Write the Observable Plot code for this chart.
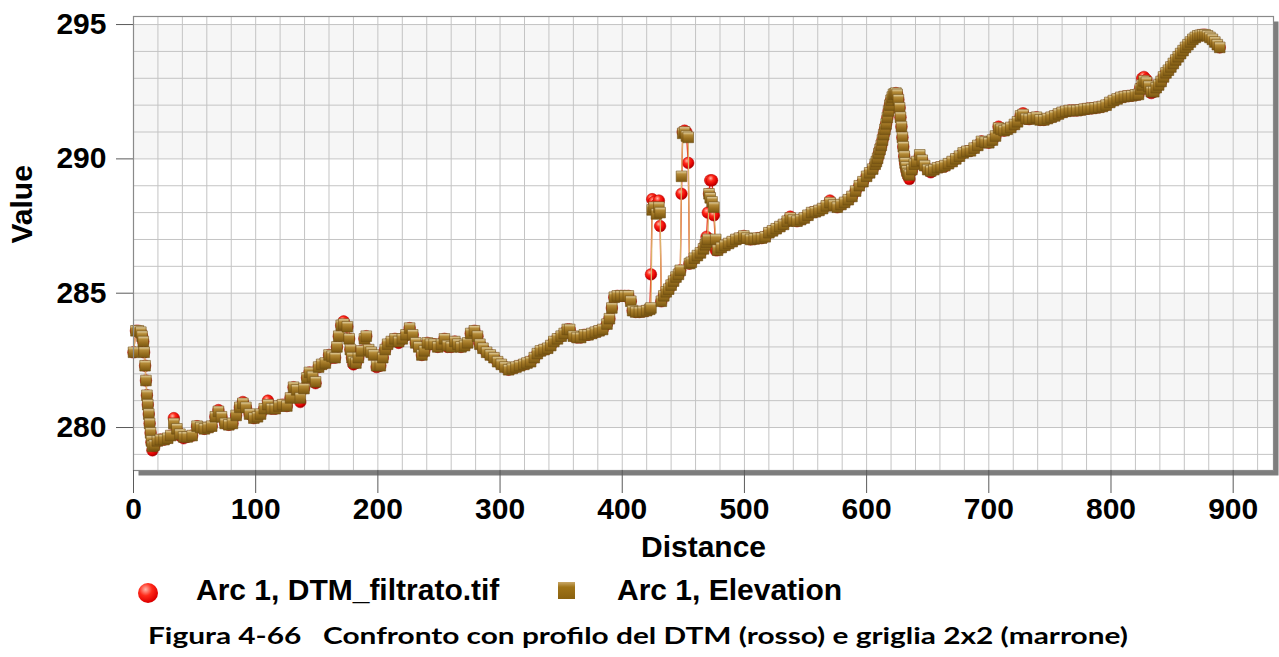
<!DOCTYPE html>
<html>
<head>
<meta charset="utf-8">
<script src="https://cdn.jsdelivr.net/npm/d3@7"></script>
<script src="https://cdn.jsdelivr.net/npm/@observablehq/plot@0.6"></script>
<style>
html,body{margin:0;padding:0;background:#fff;}
#wrap{position:relative;width:1279px;height:657px;overflow:hidden;font-family:"Liberation Sans",Arial,sans-serif;}
#chart{position:absolute;left:0;top:0;}
.lt{position:absolute;top:575px;font-size:30px;line-height:30px;font-weight:bold;color:#000;white-space:nowrap;}
.ball{position:absolute;width:20px;height:20px;border-radius:50%;
  background:radial-gradient(circle at 38% 32%, #ffb6a8 0%, #ff2a1a 35%, #e00000 70%, #a00000 100%);}
.sq{position:absolute;width:17px;height:17px;
  background:linear-gradient(to bottom, #c9a868 0%, #a07418 30%, #8a6210 100%);}
#caption{position:absolute;left:0;top:618px;}
</style>
</head>
<body>
<div id="wrap">
  <div id="chart"></div>
  <span class="ball" style="left:138px;top:583px"></span>
  <span class="lt" style="left:196px">Arc 1, DTM_filtrato.tif</span>
  <span class="sq" style="left:558px;top:582px"></span>
  <span class="lt" style="left:617px">Arc 1, Elevation</span>
  <svg id="caption" width="1279" height="39">
    <text x="638" y="26" text-anchor="middle" textLength="980" lengthAdjust="spacingAndGlyphs"
      style="font-family:Lato,'Open Sans',sans-serif;font-weight:700;font-size:22px;fill:#000;white-space:pre" xml:space="preserve">Figura 4-66   Confronto con profilo del DTM (rosso) e griglia 2x2 (marrone)</text>
  </svg>
</div>
<script>
// ---- data ----
const distance = [
  0,2,4,6,8,9.5,11,12.5,14,15.5,
  17,19.5,22,25,28,30.5,33,35.5,38,41,
  44,48,52,55,58,61,64,67,69.5,72,
  75,78,81,84,87,89.5,92,95,98.5,101.5,
  104,107,110,113,116,119,122,125.5,128.5,131,
  133.5,136.5,139.5,142,144,146.5,149,151.5,154,157,
  160,162.5,165,168,170,172,175,177.5,180,182,
  184,186.5,189,190.5,192.5,194.5,196.5,199,202,204,
  206,208,211,214,217,220,223,226,228.5,231,
  233.5,236,238,240.5,243,246,249,252,254.5,257,
  260,263,265.5,268,271,273.5,276,279,281.5,283.5,
  286,289,292,295,298,301,304,307,310,313,
  316,319.5,322,325,328,330.5,333,336,339,341.5,
  344,347,350,352.5,355,357,360,363,366,369,
  372,375,378,381,384,387.5,389.5,391.5,393.5,396,
  399,402,405,407,408.5,411,414,417,420,422.5,
  423.5,424.5,426,428,430,431,432,434,436,438,
  440,442,444,446,447.5,448.5,449.5,451,452.5,454,
  455,456.5,459,461.5,464,466.5,468,469,470,471,
  472,473.5,475,476.5,478,481,484,487,490,493,
  496,499.5,502,505,508,511,514,517,520,523,
  526,529,532,535,537.5,540,543,546,549,552,
  555,558,561,564,567,570,573,576,579,582,
  585,588,591,594,597,600,602.5,605,607,609,
  611,613,615,617,619,621,623,625,627,628.5,
  630,631.5,633,635,637,639,641,643.5,645.5,647.5,
  650,652.5,655,658,661,664,667,670,673,676,
  679,682,685,688,691,694,697,700,703,705.5,
  708,710,712.5,715,718,721,723.5,726,728,730.5,
  733,736,739,742,745,748,751,754,757,760,
  763,766,769,772,775,778,781,784,787,790,
  793,796,799,802,805,808,811,814,817,820,
  822.5,824,825.5,827,829,831,833,835,837,839,
  841,843,845,847,849,851,853,855,857,859,
  861,863,865,867,869,871,873,875,877,879,
  881,883,885,887,889
];
const dtm = [ // Arc 1, DTM_filtrato.tif (red)
  282.8,283.6,283.6,283.55,283.2,282.3,281.2,280.5,279.8,279.15,
  279.3,279.5,279.55,279.55,279.6,279.7,280.35,279.9,279.7,279.6,
  279.65,279.7,280.05,280.0,279.95,280.0,280.05,280.4,280.65,280.4,
  280.15,280.1,280.15,280.45,280.75,280.95,280.75,280.5,280.35,280.4,
  280.5,280.7,281.0,280.7,280.7,280.8,280.85,280.8,281.1,281.5,
  281.4,280.95,281.45,281.85,282.05,281.9,281.65,282.25,282.35,282.4,
  282.7,282.6,282.6,283.4,283.8,283.95,283.75,282.9,282.35,282.4,
  282.6,282.85,283.3,283.4,282.9,282.8,282.7,282.25,282.3,282.6,
  282.9,283.1,283.2,283.3,283.15,283.3,283.45,283.7,283.45,283.15,
  283.0,282.7,282.85,283.15,283.1,283.1,283.0,283.1,283.3,283.0,
  283.0,283.2,283.1,283.0,283.05,283.15,283.5,283.6,283.4,283.1,
  282.95,282.8,282.7,282.6,282.45,282.35,282.25,282.15,282.2,282.25,
  282.3,282.35,282.4,282.45,282.6,282.75,282.85,282.9,282.95,283.05,
  283.2,283.3,283.4,283.5,283.65,283.65,283.4,283.35,283.35,283.45,
  283.45,283.5,283.55,283.6,283.65,283.85,284.05,284.45,284.85,284.9,
  284.9,284.9,284.9,284.7,284.35,284.3,284.3,284.32,284.35,284.4,
  285.7,288.5,288.4,288.3,288.45,287.5,284.7,284.9,285.05,285.15,
  285.3,285.45,285.6,285.7,285.85,288.7,291.0,291.05,291.0,289.85,
  286.1,286.15,286.3,286.4,286.5,286.65,286.8,287.1,288.0,288.7,
  289.2,289.2,287.9,286.6,286.6,286.7,286.78,286.85,286.92,287.0,
  287.05,287.13,287.05,287.0,287.02,287.05,287.05,287.1,287.25,287.32,
  287.4,287.48,287.56,287.68,287.85,287.72,287.68,287.74,287.8,287.9,
  288.0,288.03,288.08,288.15,288.25,288.45,288.28,288.2,288.3,288.38,
  288.48,288.6,288.8,289.0,289.15,289.35,289.48,289.62,289.8,290.02,
  290.35,290.7,291.1,291.54,292.0,292.3,292.42,292.4,291.9,291.2,
  290.45,289.85,289.5,289.25,289.55,289.8,289.9,290.1,289.95,289.75,
  289.6,289.5,289.6,289.67,289.7,289.72,289.82,289.9,290.0,290.1,
  290.22,290.28,290.3,290.4,290.5,290.65,290.62,290.6,290.7,290.85,
  291.2,291.1,291.05,291.1,291.17,291.28,291.38,291.6,291.7,291.5,
  291.48,291.52,291.55,291.45,291.45,291.5,291.55,291.6,291.67,291.73,
  291.77,291.8,291.8,291.8,291.82,291.85,291.87,291.88,291.9,291.92,
  291.95,292.0,292.1,292.17,292.23,292.29,292.32,292.34,292.35,292.38,
  292.4,292.65,293.0,293.05,292.95,292.7,292.45,292.5,292.65,292.75,
  292.88,293.05,293.2,293.3,293.42,293.55,293.68,293.8,293.92,294.03,
  294.15,294.25,294.35,294.45,294.52,294.58,294.6,294.62,294.62,294.58,
  294.52,294.45,294.35,294.25,294.15
];
const elevation = [ // Arc 1, Elevation (brown)
  282.8,283.6,283.6,283.55,283.2,282.3,281.2,280.5,279.8,279.3,
  279.35,279.5,279.55,279.55,279.6,279.7,280.15,279.95,279.75,279.65,
  279.65,279.7,280.05,280.0,279.95,280.0,280.05,280.4,280.6,280.4,
  280.15,280.1,280.15,280.45,280.75,280.9,280.75,280.5,280.35,280.4,
  280.5,280.7,280.85,280.7,280.7,280.8,280.85,280.8,281.1,281.5,
  281.4,281.1,281.45,281.85,282.05,281.9,281.7,282.25,282.35,282.4,
  282.7,282.65,282.6,283.4,283.8,283.85,283.75,282.9,282.45,282.4,
  282.6,282.85,283.3,283.4,282.9,282.8,282.7,282.3,282.3,282.6,
  282.9,283.1,283.2,283.3,283.2,283.3,283.45,283.7,283.45,283.15,
  283.0,282.7,282.85,283.15,283.1,283.1,283.0,283.1,283.3,283.05,
  283.0,283.2,283.1,283.0,283.05,283.15,283.5,283.6,283.4,283.1,
  282.95,282.8,282.7,282.6,282.45,282.35,282.25,282.15,282.2,282.25,
  282.3,282.35,282.4,282.45,282.6,282.75,282.85,282.9,282.95,283.05,
  283.2,283.3,283.4,283.5,283.65,283.65,283.4,283.35,283.35,283.45,
  283.45,283.5,283.55,283.6,283.65,283.85,284.05,284.45,284.85,284.9,
  284.9,284.9,284.9,284.7,284.35,284.3,284.3,284.32,284.35,284.4,
  284.45,288.1,288.2,287.95,288.2,288.0,284.7,284.9,285.05,285.15,
  285.3,285.45,285.6,285.7,285.85,289.35,290.95,291.0,290.85,290.8,
  286.1,286.15,286.3,286.4,286.5,286.65,286.8,286.9,287.0,288.7,
  288.55,288.4,288.2,287.0,286.6,286.7,286.78,286.85,286.92,287.0,
  287.05,287.13,287.05,287.0,287.02,287.05,287.05,287.1,287.25,287.32,
  287.4,287.48,287.56,287.68,287.8,287.72,287.68,287.74,287.8,287.9,
  288.0,288.03,288.08,288.15,288.25,288.37,288.28,288.2,288.3,288.38,
  288.48,288.6,288.8,289.0,289.15,289.35,289.48,289.62,289.8,290.02,
  290.35,290.7,291.1,291.54,292.0,292.3,292.42,292.4,291.9,291.2,
  290.45,289.85,289.55,289.4,289.6,289.8,289.9,290.15,289.95,289.75,
  289.6,289.55,289.6,289.67,289.7,289.75,289.82,289.9,290.0,290.1,
  290.22,290.28,290.3,290.4,290.5,290.65,290.62,290.6,290.7,290.85,
  291.15,291.1,291.05,291.1,291.17,291.28,291.38,291.6,291.65,291.5,
  291.48,291.52,291.55,291.45,291.45,291.5,291.55,291.6,291.67,291.73,
  291.77,291.8,291.8,291.8,291.82,291.85,291.87,291.88,291.9,291.92,
  291.95,292.0,292.1,292.17,292.23,292.29,292.32,292.34,292.35,292.38,
  292.4,292.6,292.75,292.9,292.85,292.7,292.5,292.5,292.65,292.75,
  292.88,293.05,293.2,293.3,293.42,293.55,293.68,293.8,293.92,294.03,
  294.15,294.25,294.35,294.45,294.52,294.58,294.6,294.62,294.62,294.58,
  294.52,294.45,294.35,294.25,294.15
];
// extra readings on the steep stretches (start descent, 170 m bump, 620 m peak)
const distanceExtra  = [7, 8.7, 10.2, 11.7, 13.2, 14.7, 166.5, 176.5, 178.8,
  608, 610, 612, 614, 616, 618, 620, 622, 624, 626, 627.7, 629.3, 630.8, 632.3, 634];
const dtmExtra       = [283.4, 282.8, 281.75, 280.85, 280.15, 279.45, 283.0, 283.3, 282.6,
  289.9, 290.2, 290.5, 290.9, 291.3, 291.78, 292.18, 292.4, 292.45, 292.2, 291.55, 290.8, 290.1, 289.65, 289.35];
const elevationExtra = [283.4, 282.8, 281.75, 280.85, 280.15, 279.5, 283.0, 283.3, 282.6,
  289.9, 290.2, 290.5, 290.9, 291.3, 291.78, 292.18, 292.4, 292.45, 292.2, 291.55, 290.8, 290.1, 289.7, 289.45];

const xTicks = [0, 100, 200, 300, 400, 500, 600, 700, 800, 900];
const yTicks = [280, 285, 290, 295];
const xDomain = [0, 933];
const yDomain = [278.4, 295.3];
const xGridStep = 20;
const yGridStep = 1;
const xLabel = "Distance";
const yLabel = "Value";

// ---- build ----
const rows = distance.map((d, i) => ({d, dtm: dtm[i], elev: elevation[i]}))
  .concat(distanceExtra.map((d, i) => ({d, dtm: dtmExtra[i], elev: elevationExtra[i]})))
  .sort((a, b) => a.d - b.d);
const xGrid = d3.range(xDomain[0], xDomain[1], xGridStep);
const yGrid = d3.range(Math.ceil(yDomain[0]), yDomain[1], yGridStep);
// shaded bands between alternate major ticks (280-285, 290-295)
const bands = yTicks.slice(0, -1).map((t, i) => ({lo: t, hi: yTicks[i + 1]})).filter((b, i) => i % 2 === 0);

const chart = Plot.plot({
  width: 1279,
  height: 565,
  marginLeft: 133,
  marginRight: 6,
  marginTop: 16,
  marginBottom: 95,
  x: {domain: xDomain},
  y: {domain: yDomain},
  style: {fontFamily: "'Liberation Sans', Arial, sans-serif", background: "transparent", overflow: "visible"},
  marks: [
    Plot.frame({fill: "#7d7d7d", dx: 5, dy: 5}),
    Plot.frame({fill: "#ffffff"}),
    Plot.rect(bands, {x1: () => xDomain[0], x2: () => xDomain[1], y1: "lo", y2: "hi", fill: "#f6f6f6"}),
    Plot.gridX(xGrid, {stroke: "#c4c4c4", strokeOpacity: 1}),
    Plot.gridY(yGrid, {stroke: "#c4c4c4", strokeOpacity: 1}),
    Plot.line(rows, {x: "d", y: "dtm", stroke: "#ec2a1a", strokeWidth: 1.3}),
    Plot.dot(rows, {x: "d", y: "dtm", r: 5.8, fill: "url(#gRed)", stroke: "#b40000", strokeWidth: 0.5}),
    Plot.line(rows, {x: "d", y: "elev", stroke: "#dcb06a", strokeWidth: 1.3}),
    Plot.dot(rows, {x: "d", y: "elev", symbol: "square", r: 6, fill: "url(#gBrown)", stroke: "#6e4e12", strokeWidth: 0.6}),
    Plot.frame({stroke: "#8a8a8a", strokeWidth: 1.2}),
    Plot.axisX(xTicks, {anchor: "bottom", tickSize: 23, tickPadding: 4, stroke: "#5a5a5a", fill: "#000",
      fontSize: 30, fontWeight: "bold", label: null, tickFormat: d => String(d)}),
    Plot.axisY(yTicks, {anchor: "left", tickSize: 17, tickPadding: 10, stroke: "#5a5a5a", fill: "#000",
      fontSize: 30, fontWeight: "bold", label: null, tickFormat: d => String(d)}),
    Plot.text([yLabel], {frameAnchor: "left", dx: -111, rotate: -90, fontSize: 30, fontWeight: "bold", fill: "#000"}),
    Plot.text([xLabel], {frameAnchor: "bottom", dy: 86, fontSize: 30, fontWeight: "bold", fill: "#000"})
  ]
});

chart.insertAdjacentHTML("afterbegin", `
<defs>
  <radialGradient id="gRed" cx="0.38" cy="0.32" r="0.7">
    <stop offset="0" stop-color="#ffb8a8"/>
    <stop offset="0.35" stop-color="#ff2a1a"/>
    <stop offset="0.75" stop-color="#e00000"/>
    <stop offset="1" stop-color="#a00000"/>
  </radialGradient>
  <linearGradient id="gBrown" x1="0" y1="0" x2="0" y2="1">
    <stop offset="0" stop-color="#eadbb0"/>
    <stop offset="0.28" stop-color="#b48b38"/>
    <stop offset="0.6" stop-color="#9a7020"/>
    <stop offset="1" stop-color="#7a5812"/>
  </linearGradient>
</defs>`);

document.getElementById("chart").appendChild(chart);
</script>
</body>
</html>
